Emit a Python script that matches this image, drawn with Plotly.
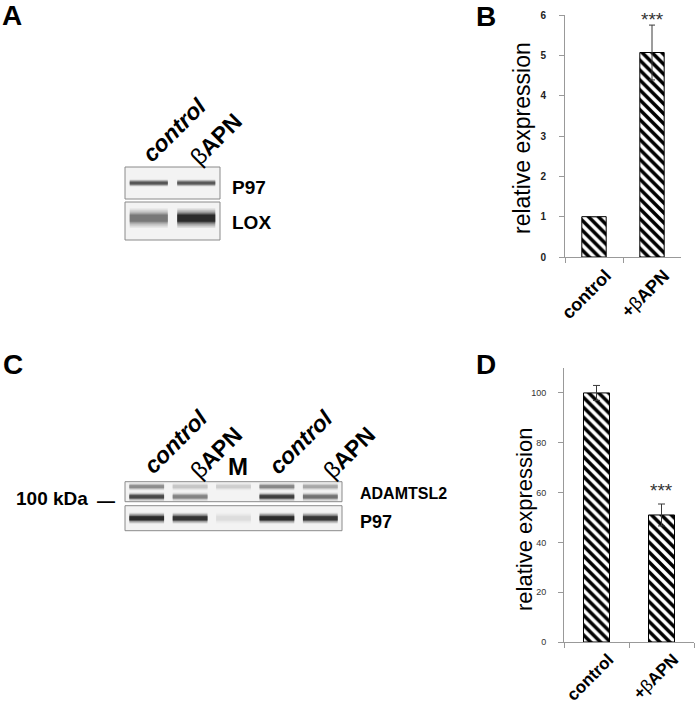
import plotly.graph_objects as go

W, H = 700, 705
FONT = "Liberation Sans, Arial, sans-serif"

# ---------------- data ----------------
bar_categories = ["control", "+βAPN"]
bar_ticktext = ["<b>control</b>", "<b>+</b>β<b>APN</b>"]
lox_rel_expr = [1.0, 5.07]          # panel B
lox_rel_err = [0.0, 0.68]
adamtsl2_rel_expr = [100.0, 51.0]   # panel D
adamtsl2_rel_err = [3.0, 4.4]
b_yticks = [0, 1, 2, 3, 4, 5, 6]
d_yticks = [0, 20, 40, 60, 80, 100]
y_title = "relative expression"
sig_label = "***"
b_sig_y = 5.88
d_sig_y = 61.0

blotA_lanes = ["control", "βAPN"]
blotA_p97 = [0.72, 0.70]
blotA_lox = [0.55, 0.92]
blotC_lanes = ["control", "βAPN", "M", "control", "βAPN"]
blotC_adam_upper = [0.45, 0.18, 0.14, 0.48, 0.32]
blotC_adam_lower = [0.78, 0.50, 0.0, 0.82, 0.58]
blotC_p97 = [0.92, 0.88, 0.07, 0.92, 0.86]


def px(x):
    return x / W


def py(y):
    return 1 - y / H


fig = go.Figure()

# ---------------- bar charts ----------------
pattern = dict(shape="\\", fgcolor="black", bgcolor="white", size=7, solidity=0.5)
fig.add_trace(go.Bar(
    x=bar_categories, y=lox_rel_expr, xaxis="x", yaxis="y", width=0.42,
    marker=dict(color="white", line=dict(color="black", width=1), pattern=pattern),
    error_y=dict(type="data", array=lox_rel_err, color="#3a3a3a", thickness=1, width=3),
    showlegend=False, hoverinfo="skip"))
fig.add_trace(go.Bar(
    x=bar_categories, y=adamtsl2_rel_expr, xaxis="x2", yaxis="y2", width=0.40,
    marker=dict(color="white", line=dict(color="black", width=1), pattern=pattern),
    error_y=dict(type="data", array=adamtsl2_rel_err, color="#3a3a3a", thickness=1, width=3.5),
    showlegend=False, hoverinfo="skip"))


# ---------------- blots ----------------
def band_traces(intens, xa, ya, yval, thick, halfw=0.4):
    out = []
    for i, v in enumerate(intens):
        if v <= 0:
            continue
        lane = i + 1
        g = int(round(235 * (1 - v)))
        col = f"rgb({g},{g},{g})"
        for mult, op in [(2.4, 0.12), (2.0, 0.15), (1.6, 0.22), (1.25, 0.35), (0.9, 0.7)]:
            out.append(go.Scatter(
                x=[lane - halfw, lane + halfw], y=[yval, yval], mode="lines",
                line=dict(color=col, width=thick * mult), opacity=op,
                xaxis=xa, yaxis=ya, hoverinfo="skip", showlegend=False))
    return out


for t in band_traces(blotA_p97, "x3", "y3", 0, 3):
    fig.add_trace(t)
for t in band_traces(blotA_lox, "x4", "y4", 0, 8):
    fig.add_trace(t)
for t in band_traces(blotC_adam_upper, "x5", "y5", 0, 3):
    fig.add_trace(t)
for t in band_traces(blotC_adam_lower, "x5", "y5", 1, 3.5):
    fig.add_trace(t)
for t in band_traces(blotC_p97, "x6", "y6", 0, 4.5):
    fig.add_trace(t)

blot_axis = dict(visible=False, fixedrange=True, showgrid=False, zeroline=False, automargin=False)

# ---------------- axes ----------------
axis_line = "#999999"


def xcommon(size):
    return dict(type="category", categoryorder="array", categoryarray=bar_categories,
                tickvals=bar_categories, ticktext=bar_ticktext,
                tickangle=-45, tickfont=dict(size=size, color="black"), ticklabelshift=12,
                showline=True, linecolor=axis_line, linewidth=1,
                ticks="outside", tickson="boundaries", ticklen=5, tickcolor=axis_line,
                showgrid=False, zeroline=False, range=[-0.5, 1.5], automargin=False)


ycommon = dict(showline=True, linecolor=axis_line, linewidth=1,
               ticks="outside", ticklen=5, tickcolor=axis_line,
               showgrid=False, zeroline=False, automargin=False)
fig.update_layout(
    template="none",
    width=W, height=H, autosize=False,
    margin=dict(l=0, r=0, t=0, b=0, pad=0),
    paper_bgcolor="white", plot_bgcolor="white",
    font=dict(family=FONT, color="black"),
    xaxis=dict(domain=[px(565), px(681)], anchor="y", **xcommon(18)),
    yaxis=dict(domain=[py(257), py(15)], anchor="x", range=[0, 6],
               tickvals=b_yticks, ticktext=[f"<b>{v}</b>" for v in b_yticks],
               tickfont=dict(size=10, color="#222"), ticklabelstandoff=11, **ycommon),
    xaxis2=dict(domain=[px(564), px(694)], anchor="y2", **xcommon(17)),
    yaxis2=dict(domain=[py(642), py(368)], anchor="x2", range=[0, 110],
                tickvals=d_yticks, ticktext=[str(v) for v in d_yticks],
                tickfont=dict(size=9, color="#333"), ticklabelstandoff=10, **ycommon),
    xaxis3=dict(domain=[px(125), px(220)], anchor="y3", range=[0.5, len(blotA_lanes) + 0.5], **blot_axis),
    yaxis3=dict(domain=[py(199), py(167)], anchor="x3", range=[-1, 1], **blot_axis),
    xaxis4=dict(domain=[px(125), px(220)], anchor="y4", range=[0.5, len(blotA_lanes) + 0.5], **blot_axis),
    yaxis4=dict(domain=[py(240), py(202)], anchor="x4", range=[-1.15, 0.85], **blot_axis),
    xaxis5=dict(domain=[px(125), px(342)], anchor="y5", range=[0.5, len(blotC_lanes) + 0.5], **blot_axis),
    yaxis5=dict(domain=[py(501.7), py(481.7)], anchor="x5", range=[1.5, -0.5], **blot_axis),
    xaxis6=dict(domain=[px(125), px(342)], anchor="y6", range=[0.5, len(blotC_lanes) + 0.5], **blot_axis),
    yaxis6=dict(domain=[py(530.7), py(505.7)], anchor="x6", range=[-1, 1], **blot_axis),
)

# blot frames
shapes = []
for k in ["3", "4", "5", "6"]:
    shapes.append(dict(type="rect", xref=f"x{k} domain", yref=f"y{k} domain",
                       x0=0, x1=1, y0=0, y1=1, fillcolor="#f3f3f3",
                       line=dict(color="#8a8a8a", width=1), layer="below"))
fig.update_layout(shapes=shapes)

# ---------------- annotations ----------------
anns = []


def ann(text, x, y, size, xanchor="center", yanchor="middle", angle=0, color="black"):
    anns.append(dict(text=text, x=px(x), y=py(y), xref="paper", yref="paper",
                     xanchor=xanchor, yanchor=yanchor, showarrow=False,
                     textangle=angle, font=dict(size=size, color=color, family=FONT)))


# panel letters
ann("<b>A</b>", 12, 15, 28)
ann("<b>B</b>", 486, 16, 28)
ann("<b>C</b>", 13, 364, 28)
ann("<b>D</b>", 486, 364, 28)

# y-axis titles of the bar charts
ann(y_title, 522, 138, 23, angle=-90)
ann(y_title, 524, 520, 22, angle=-90)

# blot labels
ann("<b>P97</b>", 230, 188, 19, xanchor="left")
ann("<b>LOX</b>", 230, 222, 19, xanchor="left")
ann("<b>ADAMTSL2</b>", 358, 493, 16, xanchor="left")
ann("<b>P97</b>", 358, 522, 18, xanchor="left")
ann("<b>100 kDa</b>", 90, 498, 19, xanchor="right")
ann("<b>—</b>", 106, 501, 18)


def lane_label(name):
    if name == "control":
        return "<b><i>control</i></b>"
    if name == "βAPN":
        return "β<b>APN</b>"
    return f"<b>{name}</b>"


a_centers = [(174, 130), (216, 139)]
for name, (cx, cy) in zip(blotA_lanes, a_centers):
    ann(lane_label(name), cx, cy, 23, angle=-45)

c_centers = [(175, 441.5), (215.5, 452.5), (238, 466.5), (300.5, 441.5), (348.5, 452.5)]
for name, (cx, cy) in zip(blotC_lanes, c_centers):
    if name == "M":
        ann(lane_label(name), cx, cy, 24)
    else:
        ann(lane_label(name), cx, cy, 23, angle=-45)

fig.update_layout(annotations=anns)

# significance stars (data coordinates)
fig.add_annotation(text=sig_label, x=bar_categories[1], y=b_sig_y, xref="x", yref="y",
                   showarrow=False, font=dict(size=19, color="#333"), yanchor="middle")
fig.add_annotation(text=sig_label, x=bar_categories[1], y=d_sig_y, xref="x2", yref="y2",
                   showarrow=False, font=dict(size=19, color="#333"), yanchor="middle")

fig.write_html("out.html", config={"displayModeBar": False},
               post_script="document.body.style.margin='0px';")
